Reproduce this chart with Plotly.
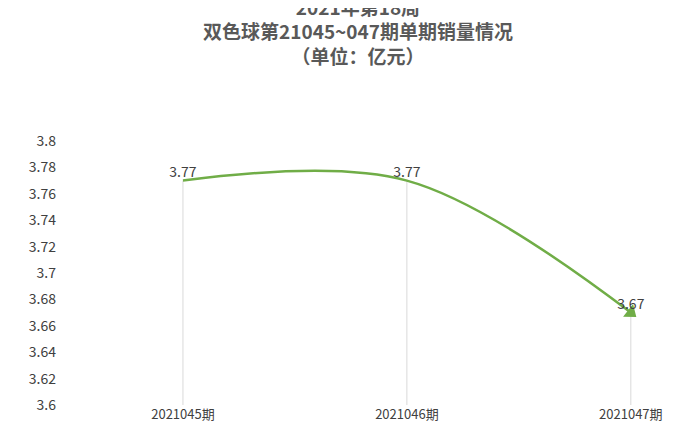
import plotly.graph_objects as go

categories = ["2021045期", "2021046期", "2021047期"]
sales = [3.77, 3.77, 3.67]
label_text = ["3.77", "3.77", "3.67"]
ytick_vals = [3.6, 3.62, 3.64, 3.66, 3.68, 3.7, 3.72, 3.74, 3.76, 3.78, 3.8]
ytick_text = ["3.6", "3.62", "3.64", "3.66", "3.68", "3.7", "3.72", "3.74", "3.76", "3.78", "3.8"]

xs = list(range(len(categories)))
font = "Noto Sans CJK SC"

fig = go.Figure()
# drop lines
dx, dy = [], []
for x, y in zip(xs, sales):
    dx += [x, x, None]
    dy += [3.6, y, None]
fig.add_trace(go.Scatter(x=dx, y=dy, mode="lines", line=dict(color="#d9d9d9", width=1),
                         hoverinfo="skip", showlegend=False))
fig.add_trace(go.Scatter(x=xs, y=sales, mode="lines", line=dict(color="#70ad47", width=2.5, shape="spline", smoothing=1.0),
                         showlegend=False))
fig.add_trace(go.Scatter(x=xs[-1:], y=sales[-1:], mode="markers",
                         marker=dict(symbol="triangle-up", size=14, color="#70ad47", angle=128),
                         showlegend=False))
fig.add_trace(go.Scatter(x=xs, y=sales, mode="text", text=label_text, textposition="top center",
                         textfont=dict(family=font, size=14, color="#404040"), showlegend=False))

fig.update_layout(
    width=700, height=433, paper_bgcolor="white", plot_bgcolor="white",
    margin=dict(l=63, r=10, t=133, b=36),
    title=dict(text="<b>2021年第18周<br>双色球第21045~047期单期销量情况<br>（单位：亿元）</b>",
               x=0.5, xanchor="center", y=0.985, yanchor="top",
               font=dict(family=font, size=19, color="#595959")),
    xaxis=dict(tickvals=xs, ticktext=categories, range=[-0.5, 2.3], showgrid=False, zeroline=False,
               showline=False, tickfont=dict(family=font, size=13, color="#404040")),
    yaxis=dict(tickvals=ytick_vals, ticktext=ytick_text, range=[3.6, 3.8], showgrid=False, zeroline=False,
               showline=False, tickfont=dict(family=font, size=14, color="#404040"), ticklabelstandoff=14),
)
fig.write_html("out.html")
